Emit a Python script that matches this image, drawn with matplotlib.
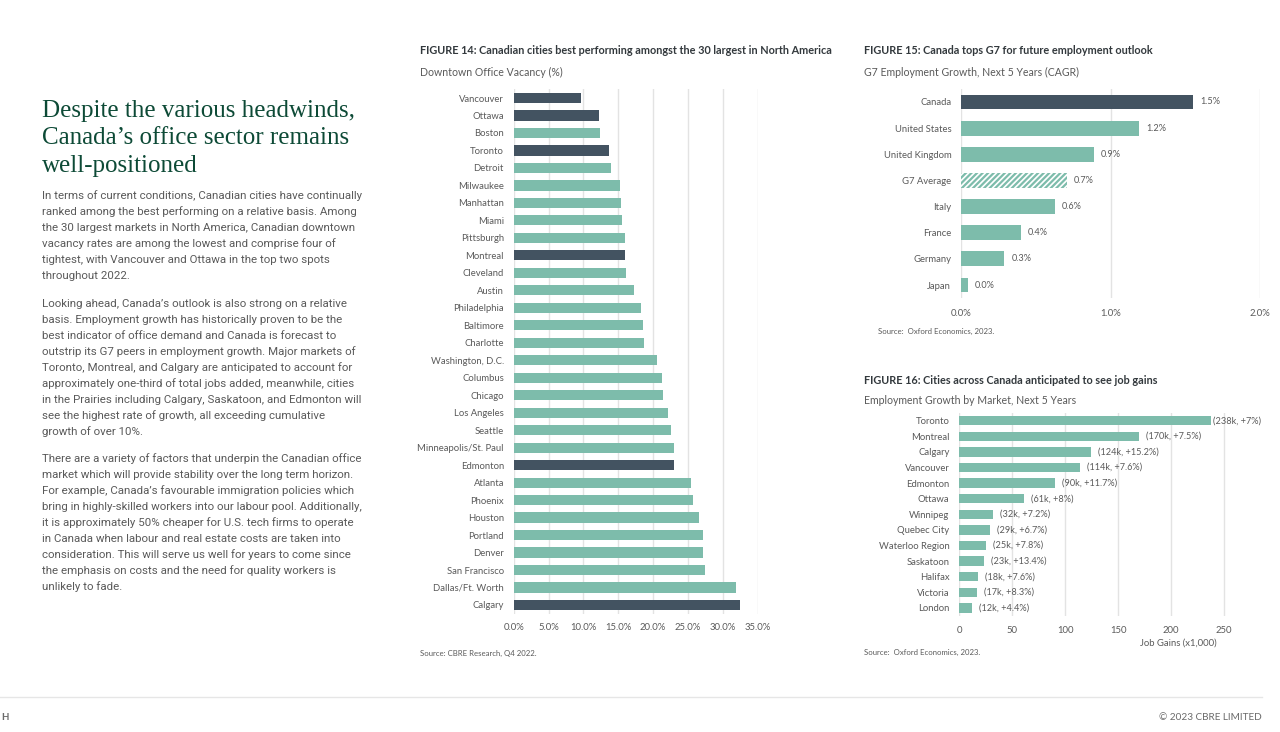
import matplotlib
matplotlib.use("Agg")
import matplotlib.pyplot as plt
import numpy as np

W, H = 1280, 732
TEAL = "#7dbcab"
DARK = "#435361"
GRID = "#e3e3e3"
TXT = "#5a5a5a"
TITLE = "#33393d"
GREEN = "#0d4a36"
SANS = ["Lato", "DejaVu Sans"]
BODY = ["Roboto", "DejaVu Sans"]
SERIF = ["Liberation Serif", "DejaVu Serif"]

# ---------------- data ----------------
fig14_cities = ["Vancouver", "Ottawa", "Boston", "Toronto", "Detroit", "Milwaukee", "Manhattan",
                "Miami", "Pittsburgh", "Montreal", "Cleveland", "Austin", "Philadelphia", "Baltimore",
                "Charlotte", "Washington, D.C.", "Columbus", "Chicago", "Los Angeles", "Seattle",
                "Minneapolis/St. Paul", "Edmonton", "Atlanta", "Phoenix", "Houston", "Portland",
                "Denver", "San Francisco", "Dallas/Ft. Worth", "Calgary"]
fig14_vacancy = [9.7, 12.2, 12.4, 13.6, 13.9, 15.3, 15.4, 15.5, 15.9, 16.0, 16.1, 17.3, 18.2, 18.6,
                 18.7, 20.5, 21.3, 21.4, 22.2, 22.5, 23.0, 23.0, 25.5, 25.7, 26.6, 27.1, 27.2, 27.5,
                 31.9, 32.5]
fig14_canadian = ["Vancouver", "Ottawa", "Toronto", "Montreal", "Edmonton", "Calgary"]
fig14_ticks = [0, 5, 10, 15, 20, 25, 30, 35]

fig15_countries = ["Canada", "United States", "United Kingdom", "G7 Average", "Italy", "France",
                   "Germany", "Japan"]
fig15_growth = [1.55, 1.19, 0.89, 0.71, 0.63, 0.40, 0.29, 0.045]
fig15_labels = ["1.5%", "1.2%", "0.9%", "0.7%", "0.6%", "0.4%", "0.3%", "0.0%"]
fig15_ticks = [0, 1, 2]

fig16_markets = ["Toronto", "Montreal", "Calgary", "Vancouver", "Edmonton", "Ottawa", "Winnipeg",
                 "Quebec City", "Waterloo Region", "Saskatoon", "Halifax", "Victoria", "London"]
fig16_jobs = [238, 170, 124, 114, 90, 61, 32, 29, 25, 23, 18, 17, 12]
fig16_labels = ["(238k, +7%)", "(170k, +7.5%)", "(124k, +15.2%)", "(114k, +7.6%)", "(90k, +11.7%)",
                "(61k, +8%)", "(32k, +7.2%)", "(29k, +6.7%)", "(25k, +7.8%)", "(23k, +13.4%)",
                "(18k, +7.6%)", "(17k, +8.3%)", "(12k, +4.4%)"]
fig16_ticks = [0, 50, 100, 150, 200, 250]

title_lines = ["Despite the various headwinds,", "Canada\u2019s office sector remains", "well-positioned"]
para1 = ["In terms of current conditions, Canadian cities have continually",
         "ranked among the best performing on a relative basis. Among",
         "the 30 largest markets in North America, Canadian downtown",
         "vacancy rates are among the lowest and comprise four of",
         "tightest, with Vancouver and Ottawa in the top two spots",
         "throughout 2022."]
para2 = ["Looking ahead, Canada\u2019s outlook is also strong on a relative",
         "basis. Employment growth has historically proven to be the",
         "best indicator of office demand and Canada is forecast to",
         "outstrip its G7 peers in employment growth. Major markets of",
         "Toronto, Montreal, and Calgary are anticipated to account for",
         "approximately one-third of total jobs added, meanwhile, cities",
         "in the Prairies including Calgary, Saskatoon, and Edmonton will",
         "see the highest rate of growth, all exceeding cumulative",
         "growth of over 10%."]
para3 = ["There are a variety of factors that underpin the Canadian office",
         "market which will provide stability over the long term horizon.",
         "For example, Canada\u2019s favourable immigration policies which",
         "bring in highly-skilled workers into our labour pool. Additionally,",
         "it is approximately 50% cheaper for U.S. tech firms to operate",
         "in Canada when labour and real estate costs are taken into",
         "consideration. This will serve us well for years to come since",
         "the emphasis on costs and the need for quality workers is",
         "unlikely to fade."]

# ---------------- figure ----------------
plt.rcParams["font.family"] = SANS
plt.rcParams["hatch.linewidth"] = 1.6
fig = plt.figure(figsize=(W / 100, H / 100), dpi=100)
fig.patch.set_facecolor("white")
renderer = fig.canvas.get_renderer()


def fx(x):
    return x / W


def fy(y):
    return 1 - y / H


def fit_size(sample, target_px, family, base=10.0, weight="normal"):
    t = fig.text(0, 0, sample, family=family, fontsize=base, weight=weight)
    w = t.get_window_extent(renderer=renderer).width
    t.remove()
    return base * target_px / w


def px_axes(l, t, r, b):
    return fig.add_axes([fx(l), fy(b), fx(r) - fx(l), (b - t) / H])


def style_axes(ax, fs):
    for s in ax.spines.values():
        s.set_visible(False)
    ax.tick_params(axis="both", length=0, colors=TXT, labelsize=fs)
    ax.grid(axis="x", color=GRID, linewidth=1.0)
    ax.set_axisbelow(True)


# left column text
ts = fit_size(title_lines[0], 313, SERIF)
for i, line in enumerate(title_lines):
    fig.text(fx(42), fy(117 + 27.5 * i), line, family=SERIF, fontsize=ts, color=GREEN, va="baseline")
bs = fit_size(para1[0], 320, BODY)
for start, para in [(196, para1), (304, para2), (459, para3)]:
    for i, line in enumerate(para):
        fig.text(fx(42), fy(start + 16.0 * i), line, family=BODY, fontsize=bs, color=TXT, va="center")

# chart headings
hs = fit_size("FIGURE 14: Canadian cities best performing amongst the 30 largest in North America", 411,
              SANS, weight="bold")
ss = fit_size("Downtown Office Vacancy (%)", 142, SANS)

# Figure 14
fig.text(fx(420), fy(51), "FIGURE 14: Canadian cities best performing amongst the 30 largest in North America",
         fontsize=hs, weight="bold", color=TITLE, va="center")
fig.text(fx(420), fy(72), "Downtown Office Vacancy (%)", fontsize=ss, color=TXT, va="center")
ax1 = px_axes(513.7, 89.3, 757.7, 613.7)
y1 = np.arange(len(fig14_cities))
c1 = [DARK if c in fig14_canadian else TEAL for c in fig14_cities]
ax1.barh(y1, fig14_vacancy, height=0.58, color=c1, zorder=2)
ax1.set_ylim(len(fig14_cities) - 0.5, -0.5)
ax1.set_xlim(0, 35)
ax1.set_xticks(fig14_ticks)
ax1.set_xticklabels([f"{t:.1f}%" for t in fig14_ticks])
ax1.set_yticks(y1)
ax1.set_yticklabels(fig14_cities)
style_axes(ax1, 6.8)
ax1.tick_params(axis="y", pad=7)
ax1.tick_params(axis="x", pad=7)
fig.text(fx(420), fy(653), "Source: CBRE Research, Q4 2022.", fontsize=5.6, color=TXT, va="center")

# Figure 15
fig.text(fx(864), fy(51), "FIGURE 15: Canada tops G7 for future employment outlook",
         fontsize=hs, weight="bold", color=TITLE, va="center")
fig.text(fx(864), fy(72), "G7 Employment Growth, Next 5 Years (CAGR)", fontsize=ss, color=TXT, va="center")
ax2 = px_axes(961, 88.9, 1260.3, 298.1)
y2 = np.arange(len(fig15_countries))
for i, (name, val) in enumerate(zip(fig15_countries, fig15_growth)):
    if name == "G7 Average":
        ax2.barh(i, val, height=0.57, facecolor="white", edgecolor=TEAL, hatch="//////", linewidth=0, zorder=2)
    else:
        ax2.barh(i, val, height=0.57, color=DARK if name == "Canada" else TEAL, zorder=2)
    ax2.annotate(fig15_labels[i], (val, i), xytext=(5, 0), textcoords="offset points",
                 va="center", ha="left", fontsize=6.6, color=TXT)
ax2.set_ylim(len(fig15_countries) - 0.5, -0.5)
ax2.set_xlim(0, 2)
ax2.set_xticks(fig15_ticks)
ax2.set_xticklabels([f"{t:.1f}%" for t in fig15_ticks])
ax2.set_yticks(y2)
ax2.set_yticklabels(fig15_countries)
style_axes(ax2, 6.8)
ax2.tick_params(axis="y", pad=7)
ax2.tick_params(axis="x", pad=8)
fig.text(fx(878), fy(331), "Source:  Oxford Economics, 2023.", fontsize=5.6, color=TXT, va="center")

# Figure 16
fig.text(fx(864), fy(381), "FIGURE 16: Cities across Canada anticipated to see job gains",
         fontsize=hs, weight="bold", color=TITLE, va="center")
fig.text(fx(864), fy(400), "Employment Growth by Market, Next 5 Years", fontsize=ss, color=TXT, va="center")
ax3 = px_axes(959.3, 412.9, 1255.8, 615.8)
y3 = np.arange(len(fig16_markets))
ax3.barh(y3, fig16_jobs, height=0.6, color=TEAL, zorder=2)
for i, (val, lab) in enumerate(zip(fig16_jobs, fig16_labels)):
    off = 1 if i == 0 else 5
    ax3.annotate(lab, (val, i), xytext=(off, 0), textcoords="offset points",
                 va="center", ha="left", fontsize=6.6, color=TXT)
ax3.set_ylim(len(fig16_markets) - 0.5, -0.5)
ax3.set_xlim(0, 280)
ax3.set_xticks(fig16_ticks)
ax3.set_xticklabels([str(t) for t in fig16_ticks])
ax3.set_yticks(y3)
ax3.set_yticklabels(fig16_markets)
style_axes(ax3, 6.8)
ax3.tick_params(axis="y", pad=7)
ax3.tick_params(axis="x", pad=7)
fig.text(fx(1178), fy(643), "Job Gains (x1,000)", fontsize=6.8, color=TXT, va="center", ha="center")
fig.text(fx(864), fy(652), "Source:  Oxford Economics, 2023.", fontsize=5.6, color=TXT, va="center")

# footer
fig.add_artist(plt.Line2D([0, fx(1262)], [fy(697), fy(697)], color="#e6e6e6", linewidth=1.0))
fig.text(fx(1), fy(717), "H", fontsize=7, color="#6b6b6b", weight="bold", va="center")
fig.text(fx(1262), fy(717), "\u00a9 2023 CBRE LIMITED", fontsize=7.2, color="#6b6b6b", va="center", ha="right")

fig.savefig("out.png", dpi=100, facecolor="white")
